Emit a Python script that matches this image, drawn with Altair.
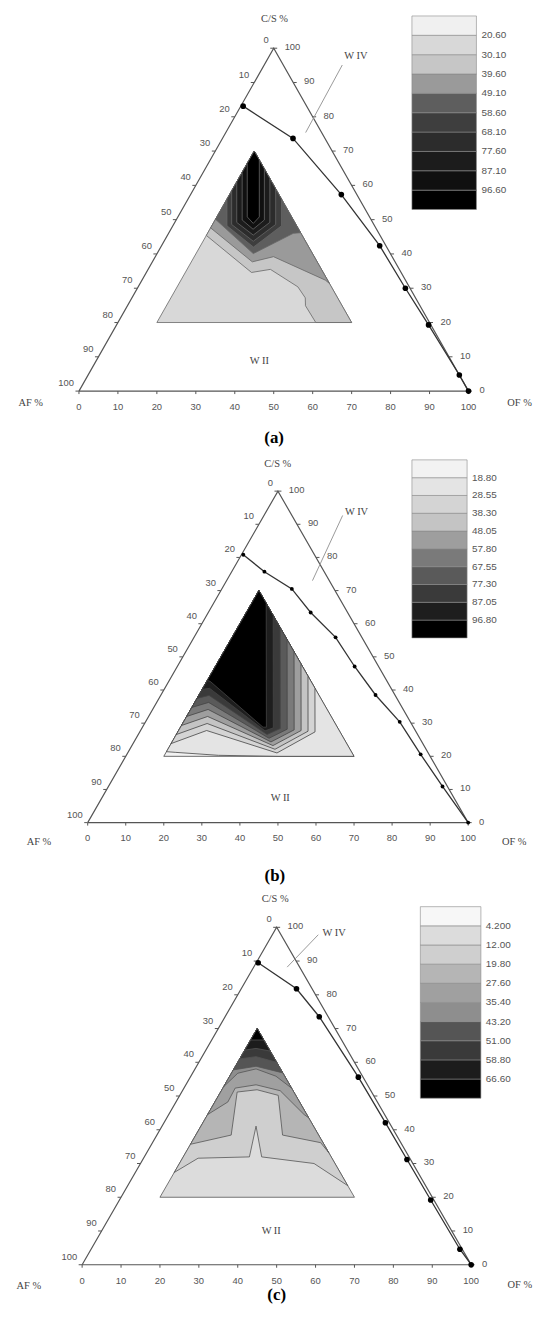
import altair as alt
import pandas as pd

TICKS = list(range(0, 101, 10))

# ---------------- panel (a) ----------------
A_THRESHOLDS = [20.60, 30.10, 39.60, 49.10, 58.60, 68.10, 77.60, 87.10, 96.60]
A_GREYS = ["#f0f0f0", "#d8d8d8", "#c6c6c6", "#9a9a9a", "#5e5e5e",
           "#3e3e3e", "#2c2c2c", "#1c1c1c", "#101010", "#000000"]
A_BASE_BAND = 1
A_LEVELS = [2, 3, 4, 5, 6, 7, 8, 9]
A_CONTOUR_OF = [
    [10, 27.0, 31.4, 41.0, 44.5, 45.7, 50.8],
    [10, 25.65, 30.35, 47.1, 48.6],
    [10, 24.7, 32.0, 33.8],
    [10, 13.9, 23.8, 27.9, 24.0],
    [10, 14.9, 22.9, 26.2, 21.0],
    [10, 15.9, 22.0, 24.4, 18.0],
    [10, 16.95, 21.1, 22.65, 15.2],
    [10, 17.8, 20.3, 20.9, 12.6],
]
A_CONTOUR_CS = [
    [45.4, 34.6, 35.5, 30.4, 27.2, 24.9, 20.0],
    [47.6, 37.7, 39.2, 32.35, 31.4],
    [50.1, 40.1, 46.0, 46.2],
    [56.0, 48.2, 42.0, 48.2, 56.0],
    [58.4, 48.6, 43.7, 48.6, 59.0],
    [61.0, 49.2, 45.5, 49.2, 62.0],
    [63.8, 49.9, 47.2, 49.9, 64.8],
    [66.4, 50.8, 48.9, 50.8, 67.4],
]
A_LINE_OF = [0.6, 18.1, 38.7, 56.0, 68.8, 80.1, 95.3, 100.0]
A_LINE_CS = [83.1, 73.7, 57.3, 42.4, 30.0, 19.3, 4.7, 0.0]

# ---------------- panel (b) ----------------
B_THRESHOLDS = [18.80, 28.55, 38.30, 48.05, 57.80, 67.55, 77.30, 87.05, 96.80]
B_GREYS = ["#f2f2f2", "#e4e4e4", "#d4d4d4", "#c4c4c4", "#9e9e9e",
           "#7a7a7a", "#5a5a5a", "#3a3a3a", "#1e1e1e", "#000000"]
B_BASE_BAND = 0
B_LEVELS = [1, 2, 3, 4, 5, 6, 7, 8, 9]
B_CONTOUR_OF = [
    [10, 12.4, 24.2, 40.0],
    [10, 17.37, 39.24, 46.06, 39.44],
    [10, 16.44, 38.16, 44.12, 35.79],
    [10, 15.51, 37.08, 42.2, 32.12],
    [10, 14.58, 36.0, 40.27, 28.46],
    [10, 13.65, 34.93, 38.34, 24.81],
    [10, 12.72, 33.85, 36.42, 21.15],
    [10, 11.79, 32.77, 34.49, 17.5],
    [10, 10.86, 31.69, 32.57, 13.83],
]
B_CONTOUR_CS = [
    [21.4, 21.2, 20.3, 20.0],
    [23.84, 27.78, 21.01, 27.37, 40.56],
    [26.57, 29.9, 22.12, 27.58, 44.21],
    [29.29, 32.02, 23.23, 27.78, 47.88],
    [32.02, 34.14, 24.34, 27.98, 51.54],
    [34.75, 36.26, 25.45, 28.18, 55.19],
    [37.47, 38.38, 26.57, 28.38, 58.85],
    [40.2, 40.51, 27.68, 28.59, 62.5],
    [42.9, 42.63, 28.79, 28.79, 66.17],
]
B_LINE_OF = [0.5, 8.6, 18.4, 26.9, 37.2, 46.6, 56.4, 66.8, 77.2, 87.8, 100.0]
B_LINE_CS = [80.8, 75.7, 70.5, 63.4, 55.9, 47.1, 38.5, 30.4, 20.6, 10.9, 0.0]

# ---------------- panel (c) ----------------
C_THRESHOLDS = [4.200, 12.00, 19.80, 27.60, 35.40, 43.20, 51.00, 58.80, 66.60]
C_GREYS = ["#f7f7f7", "#dcdcdc", "#cfcfcf", "#b5b5b5", "#a0a0a0",
           "#8e8e8e", "#555555", "#3a3a3a", "#1c1c1c", "#000000"]
C_BASE_BAND = 1
C_LEVELS = [2, 3, 4, 5, 6, 7, 8, 9]
C_CONTOUR_OF = [
    [10, 14.02, 27.02, 24.16, 30.17, 44.61, 56.57],
    [10, 19.1, 14.26, 19.03, 25.31, 32.3, 43.22, 46.76],
    [10, 13.34, 13.17, 18.04, 25.13, 34.8, 36.47],
    [10, 11.64, 15.68, 21.87, 27.65],
    [10, 15.29, 23.14],
    [10, 13.87, 20.0],
    [10, 12.64, 16.67],
    [10, 13.4],
]
C_CONTOUR_CS = [
    [27.35, 31.57, 31.96, 41.08, 31.96, 30.0, 23.43],
    [35.7, 38.43, 51.18, 51.86, 50.2, 38.43, 36.18, 33.24],
    [44.5, 48.24, 52.35, 53.33, 51.57, 44.51, 43.53],
    [52.8, 56.76, 58.04, 55.88, 52.35],
    [57.75, 58.82, 56.86],
    [61.0, 61.67, 60.0],
    [63.6, 64.12, 63.33],
    [66.6, 66.6],
]
C_LINE_OF = [0.5, 14.2, 24.2, 43.2, 56.9, 67.9, 80.0, 94.8, 100.0]
C_LINE_CS = [89.5, 81.8, 73.5, 55.6, 42.1, 31.2, 19.2, 4.6, 0.0]

# ---------------- layout ----------------
PANEL_W = 525
SERIF = "Liberation Serif"
SANS = "Liberation Sans"


def to_xy(of, cs):
    return of + cs / 2.0, cs


def band_value(th, band):
    step = th[1] - th[0]
    if band == 0:
        return th[0] - step / 2
    if band >= len(th):
        return th[-1] + step / 2
    return (th[band - 1] + th[band]) / 2


def polygon(of_list, cs_list):
    pts = [(10.0, 70.0)] + list(zip(of_list, cs_list))
    if abs(pts[-1][1] - 20.0) < 1e-9:
        pts.append((60.0, 20.0))
    pts.append((10.0, 70.0))
    return pts


def panel(p):
    blx, bly, kx, ky, off, h = p["geo"]
    x0 = -(blx - 8) / kx
    x1 = x0 + PANEL_W / kx
    y1 = (bly - off) / ky
    y0 = y1 - h / ky
    xs = alt.Scale(domain=[x0, x1], nice=False, zero=False)
    ys = alt.Scale(domain=[y0, y1], nice=False, zero=False)
    X = alt.X("X:Q", scale=xs, axis=None)
    Y = alt.Y("Y:Q", scale=ys, axis=None)
    X2 = alt.X2("X2:Q")
    Y2 = alt.Y2("Y2:Q")
    th = p["th"]
    lx, ly, glen, gthick = p["legend"]
    # values are negated so that the vertical legend runs light (top) to dark (bottom)
    fill = alt.Fill(
        "nv:Q",
        scale=alt.Scale(type="threshold", domain=[-t for t in reversed(th)],
                        range=list(reversed(p["greys"]))),
        legend=alt.Legend(
            type="gradient", orient="none", legendX=lx, legendY=ly,
            direction="vertical", gradientLength=glen, gradientThickness=gthick,
            labelExpr="isFinite(datum.value) ? format(-datum.value, '.4r') : ''",
            title=None, labelFont=SANS, labelFontSize=10,
            labelColor="#555", labelOffset=5, padding=0, labelOverlap=False,
            gradientStrokeColor="#888", gradientStrokeWidth=0.6,
        ),
    )
    layers = []
    polys = [([(10.0, 70.0), (10.0, 20.0), (60.0, 20.0), (10.0, 70.0)], p["base"])]
    for lvl, ofs, css in zip(p["levels"], p["cof"], p["ccs"]):
        polys.append((polygon(ofs, css), lvl))
    for pts, band in polys:
        rows = []
        for i, (o, c) in enumerate(pts):
            xx, yy = to_xy(o, c)
            rows.append({"X": xx, "Y": yy, "i": i, "nv": -band_value(th, band)})
        layers.append(
            alt.Chart(pd.DataFrame(rows)).mark_line(
                stroke=p["cstroke"], strokeWidth=0.8
            ).encode(x=X, y=Y, order="i:Q", fill=fill)
        )
    tri = pd.DataFrame({"X": [0, 100, 50, 0], "Y": [0, 0, 100, 0], "i": [0, 1, 2, 3]})
    layers.append(
        alt.Chart(tri).mark_line(stroke="#555", strokeWidth=1.2)
        .encode(x=X, y=Y, order="i:Q")
    )
    tlx = 3.5 / kx
    tly = 3.0 / ky
    bt = pd.DataFrame({"X": TICKS, "Y": [0] * 11, "X2": TICKS, "Y2": [-tly] * 11,
                       "t": [str(v) for v in TICKS]})
    rt = pd.DataFrame({"X": [100 - v / 2 for v in TICKS], "Y": TICKS,
                       "X2": [100 - v / 2 + tlx for v in TICKS], "Y2": TICKS,
                       "t": [str(v) for v in TICKS]})
    lt = pd.DataFrame({"X": [(100 - v) / 2 for v in TICKS], "Y": [100 - v for v in TICKS],
                       "X2": [(100 - v) / 2 - tlx for v in TICKS], "Y2": [100 - v for v in TICKS],
                       "t": [str(v) for v in TICKS]})
    for df in (bt, rt, lt):
        layers.append(alt.Chart(df).mark_rule(color="#555", strokeWidth=1)
                      .encode(x=X, y=Y, x2=X2, y2=Y2))
    tk = dict(font=SANS, fontSize=9.5, color="#555")
    layers.append(alt.Chart(bt).mark_text(align="center", baseline="middle", dy=16, **tk)
                  .encode(x=X, y=Y, text="t:N"))
    layers.append(alt.Chart(rt).mark_text(align="left", baseline="middle", dx=11, dy=-1, **tk)
                  .encode(x=X, y=Y, text="t:N"))
    layers.append(alt.Chart(lt).mark_text(align="right", baseline="middle", dx=-5, dy=-8, **tk)
                  .encode(x=X, y=Y, text="t:N"))
    lx_, ly_ = zip(*[to_xy(o, c) for o, c in zip(p["lof"], p["lcs"])])
    bd = pd.DataFrame({"X": lx_, "Y": ly_, "i": range(len(lx_))})
    layers.append(alt.Chart(bd).mark_line(color="#333", strokeWidth=1.3)
                  .encode(x=X, y=Y, order="i:Q"))
    layers.append(alt.Chart(bd).mark_circle(color="#000", opacity=1, size=p["dot"])
                  .encode(x=X, y=Y))
    (ax1, ay1), (ax2, ay2) = p["leader"]
    ld = pd.DataFrame({"X": [ax1], "Y": [ay1], "X2": [ax2], "Y2": [ay2]})
    layers.append(alt.Chart(ld).mark_rule(color="#999", strokeWidth=1)
                  .encode(x=X, y=Y, x2=X2, y2=Y2))
    ann = pd.DataFrame(p["labels"], columns=["t", "X", "Y"])
    layers.append(alt.Chart(ann).mark_text(font=SERIF, fontSize=10.5, color="#444",
                                           align="center", baseline="middle")
                  .encode(x=X, y=Y, text="t:N"))
    cap = pd.DataFrame([p["caption"]], columns=["t", "X", "Y"])
    layers.append(alt.Chart(cap).mark_text(font=SERIF, fontSize=17, fontWeight="bold",
                                           color="#000", align="center", baseline="middle")
                  .encode(x=X, y=Y, text="t:N"))
    return alt.layer(*layers).properties(width=PANEL_W, height=h)


PA = dict(geo=(79.5, 389.0, 3.925, 3.455, 8, 440), th=A_THRESHOLDS, greys=A_GREYS,
          base=A_BASE_BAND, levels=A_LEVELS, cof=A_CONTOUR_OF, ccs=A_CONTOUR_CS,
          lof=A_LINE_OF, lcs=A_LINE_CS, dot=32, cstroke="#666",
          legend=(407, 3, 195, 65),
          leader=((67.6, 95.1), (58.2, 75.4)),
          labels=[("C/S %", 50.2, 108.6), ("AF %", -12.4, -3.4), ("OF %", 113.1, -3.4),
                  ("W IV", 71.1, 97.6), ("W II", 46.3, 8.8)],
          caption=("(a)", 50.1, -13.7))
PB = dict(geo=(88.3, 823.8, 3.834, 3.34, 448, 440), th=B_THRESHOLDS, greys=B_GREYS,
          base=B_BASE_BAND, levels=B_LEVELS, cof=B_CONTOUR_OF, ccs=B_CONTOUR_CS,
          lof=B_LINE_OF, lcs=B_LINE_CS, dot=15, cstroke="#444",
          legend=(407, 10.3, 179.4, 55.6),
          leader=((67.0, 92.65), (59.07, 73.0)),
          labels=[("C/S %", 49.95, 108.3), ("AF %", -12.8, -6.0), ("OF %", 112.1, -6.0),
                  ("W IV", 70.65, 93.7), ("W II", 50.6, 7.55)],
          caption=("(b)", 49.2, -16.1))
PC = dict(geo=(82.7, 1269.3, 3.92, 3.4, 888, 437), th=C_THRESHOLDS, greys=C_GREYS,
          base=C_BASE_BAND, levels=C_LEVELS, cof=C_CONTOUR_OF, ccs=C_CONTOUR_CS,
          lof=C_LINE_OF, lcs=C_LINE_CS, dot=32, cstroke="#555",
          legend=(415.5, 20.5, 193, 61),
          leader=((60.7, 97.8), (52.7, 88.2)),
          labels=[("C/S %", 49.6, 108.5), ("AF %", -13.7, -6.2), ("OF %", 112.5, -5.9),
                  ("W IV", 64.8, 98.3), ("W II", 48.6, 10.1)],
          caption=("(c)", 50.0, -9.0))

chart = (
    alt.vconcat(panel(PA), panel(PB), panel(PC), spacing=0)
    .resolve_scale(fill="independent", x="independent", y="independent")
    .resolve_legend(fill="independent")
    .properties(padding=0)
    .configure_view(stroke=None)
)

chart.save("out.html", embed_options={"renderer": "svg", "actions": False})
